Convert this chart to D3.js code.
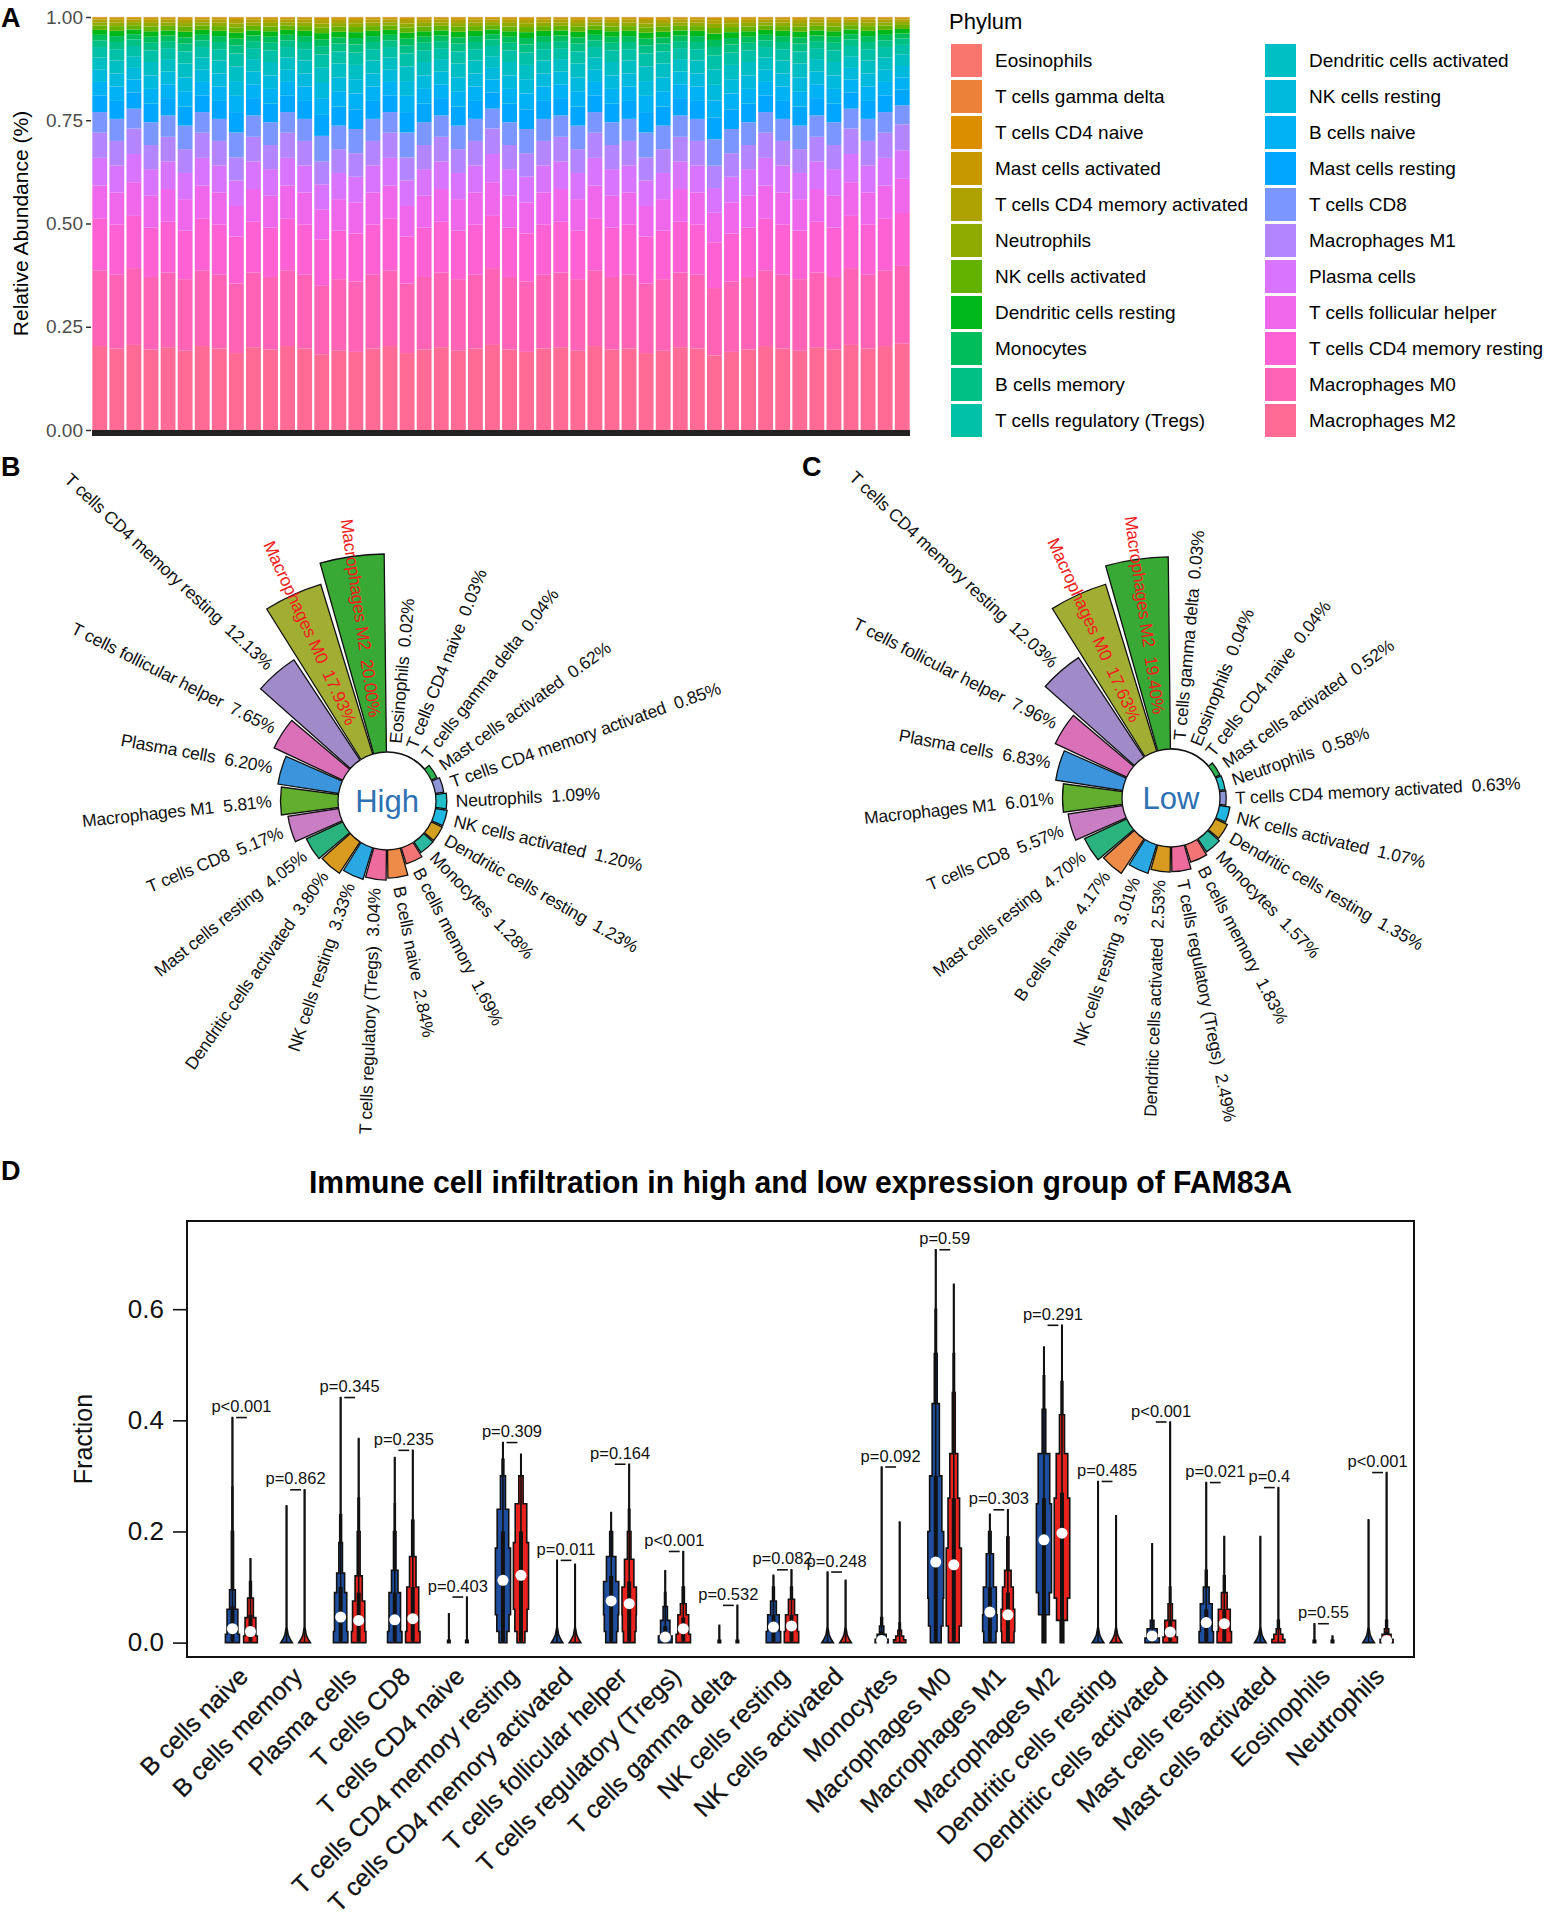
<!DOCTYPE html>
<html><head><meta charset="utf-8">
<script src="https://cdn.jsdelivr.net/npm/d3@7"></script>
<style>
body{margin:0;background:#fff;}
svg{display:block;font-family:"Liberation Sans",Arial,Helvetica,sans-serif;}
text{white-space:pre;}
</style></head><body>
<script>
// ================= DATA =================
// Panel A – cell types in legend order (top of stack first)
const cellTypes = ["Eosinophils","T cells gamma delta","T cells CD4 naive","Mast cells activated",
  "T cells CD4 memory activated","Neutrophils","NK cells activated","Dendritic cells resting",
  "Monocytes","B cells memory","T cells regulatory (Tregs)","Dendritic cells activated",
  "NK cells resting","B cells naive","Mast cells resting","T cells CD8","Macrophages M1",
  "Plasma cells","T cells follicular helper","T cells CD4 memory resting","Macrophages M0","Macrophages M2"];
// mean relative abundance (%) per cell type, legend order
const meanAbundance = [0.03,0.035,0.035,0.57,0.74,0.84,1.14,1.29,1.43,1.76,2.77,3.17,3.17,3.50,4.38,5.37,5.91,6.52,7.80,12.08,17.78,19.70];
// share of the macrophage/CD4/plasma block (bottom six types) read for each visible bar
const sampleMainShare = [0.72,0.70,0.73,0.69,0.71,0.68,0.72,0.70,0.66,0.71,0.69,0.72,0.70,0.65,0.68,0.67,0.70,0.72,0.66,0.69,
  0.71,0.68,0.70,0.73,0.69,0.67,0.70,0.71,0.68,0.72,0.69,0.70,0.66,0.68,0.71,0.70,0.64,0.67,0.69,0.72,
  0.70,0.68,0.71,0.69,0.73,0.70,0.72,0.74];
const yTicksA = [0,0.25,0.5,0.75,1];
const yTickLabelsA = ["0.00","0.25","0.50","0.75","1.00"];

// Panels B / C – circular bar plots (percent)
const highCells = ["Macrophages M2","Macrophages M0","T cells CD4 memory resting","T cells follicular helper",
  "Plasma cells","Macrophages M1","T cells CD8","Mast cells resting","Dendritic cells activated",
  "NK cells resting","T cells regulatory (Tregs)","B cells naive","B cells memory","Monocytes",
  "Dendritic cells resting","NK cells activated","Neutrophils","T cells CD4 memory activated",
  "Mast cells activated","T cells gamma delta","T cells CD4 naive","Eosinophils"];
const highValues = [20.00,17.93,12.13,7.65,6.20,5.81,5.17,4.05,3.80,3.33,3.04,2.84,1.69,1.28,1.23,1.20,1.09,0.85,0.62,0.04,0.03,0.02];
const lowCells = ["Macrophages M2","Macrophages M0","T cells CD4 memory resting","T cells follicular helper",
  "Plasma cells","Macrophages M1","T cells CD8","Mast cells resting","B cells naive","NK cells resting",
  "Dendritic cells activated","T cells regulatory (Tregs)","B cells memory","Monocytes",
  "Dendritic cells resting","NK cells activated","T cells CD4 memory activated","Neutrophils",
  "Mast cells activated","T cells CD4 naive","Eosinophils","T cells gamma delta"];
const lowValues = [19.40,17.63,12.03,7.96,6.83,6.01,5.57,4.70,4.17,3.01,2.53,2.49,1.83,1.57,1.35,1.07,0.63,0.58,0.52,0.04,0.04,0.03];
const highlightCells = ["Macrophages M2","Macrophages M0"];
// bar colours of the circular plots, legend order
const circColors = ["#E9736E","#E58B3B","#C9A227","#2CB050","#8C95D8","#22BFC9","#1FB6E2","#D4A020",
  "#2AB8A0","#F47476","#EE6C9C","#D89A1F","#2AA8E4","#EE8B48","#2BB37E","#C97DC2","#62AE2F",
  "#3C95DC","#D970B8","#A08BC8","#A2AD33","#39A935"];

// Panel D – violin plots (blue = low, red = high)
const violinCells = ["B cells naive","B cells memory","Plasma cells","T cells CD8","T cells CD4 naive",
  "T cells CD4 memory resting","T cells CD4 memory activated","T cells follicular helper",
  "T cells regulatory (Tregs)","T cells gamma delta","NK cells resting","NK cells activated","Monocytes",
  "Macrophages M0","Macrophages M1","Macrophages M2","Dendritic cells resting","Dendritic cells activated",
  "Mast cells resting","Mast cells activated","Eosinophils","Neutrophils"];
const pLabels = ["p<0.001","p=0.862","p=0.345","p=0.235","p=0.403","p=0.309","p=0.011","p=0.164","p<0.001",
  "p=0.532","p=0.082","p=0.248","p=0.092","p=0.59","p=0.303","p=0.291","p=0.485","p<0.001","p=0.021",
  "p=0.4","p=0.55","p<0.001"];
const lowMax  = [0.405,0.246,0.441,0.333,0.052,0.360,0.148,0.234,0.129,0.031,0.121,0.127,0.316,0.707,0.231,0.532,0.290,0.178,0.288,0.191,0.034,0.221];
const highMax = [0.151,0.275,0.367,0.346,0.082,0.339,0.141,0.321,0.164,0.067,0.131,0.112,0.217,0.645,0.239,0.571,0.228,0.397,0.191,0.279,0.012,0.306];
const lowMedian  = [0.025,0,0.046,0.041,0,0.112,0,0.075,0.010,0,0.028,0,0.004,0.145,0.055,0.185,0,0.012,0.036,0,0,0];
const highMedian = [0.020,0,0.040,0.043,0,0.121,0,0.070,0.025,0,0.030,0,0,0.140,0.050,0.197,0,0.019,0.034,0,0,0.004];
const lowQ3  = [0.065,0.01,0.10,0.09,0,0.20,0.01,0.12,0.03,0,0.05,0.01,0.02,0.30,0.10,0.26,0.01,0.02,0.06,0.01,0,0.01];
const highQ3 = [0.05,0.01,0.09,0.10,0,0.20,0.01,0.11,0.045,0,0.05,0.01,0.01,0.26,0.09,0.27,0.01,0.04,0.06,0.01,0,0.02];
// violin outlines: [upper y of step, half width in slot units], from the bottom
const tentShape = [[0,0.32],[0.006,0.2],[0.014,0.09],[0.026,0.025]];   // linear "tent" knots [y, half width]
const dotShape = [[0.004,0.07]];
const lowShapes = [
  [[0.015,0.39],[0.06,0.30],[0.095,0.16],[0.20,0.06],[0.28,0.03]],
  tentShape,
  [[0.02,0.40],[0.09,0.34],[0.125,0.22],[0.18,0.10],[0.23,0.05]],
  [[0.02,0.40],[0.09,0.32],[0.13,0.18],[0.20,0.07],[0.25,0.03]],
  dotShape,
  [[0.02,0.22],[0.05,0.34],[0.17,0.42],[0.24,0.32],[0.30,0.14],[0.33,0.05]],
  tentShape,
  [[0.02,0.30],[0.05,0.38],[0.11,0.42],[0.155,0.26],[0.20,0.08]],
  [[0.012,0.38],[0.04,0.26],[0.065,0.12],[0.09,0.04]],
  dotShape,
  [[0.02,0.40],[0.05,0.32],[0.075,0.16],[0.10,0.05]],
  tentShape,
  [[0.006,0.36],[0.015,0.25],[0.03,0.12],[0.045,0.05]],
  [[0.03,0.30],[0.08,0.40],[0.20,0.44],[0.30,0.34],[0.43,0.20],[0.52,0.08],[0.60,0.04]],
  [[0.02,0.34],[0.05,0.40],[0.10,0.36],[0.16,0.20],[0.20,0.07]],
  [[0.05,0.10],[0.09,0.30],[0.25,0.42],[0.34,0.32],[0.42,0.10],[0.48,0.04]],
  tentShape,
  [[0.008,0.40],[0.025,0.28],[0.04,0.10]],
  [[0.02,0.40],[0.07,0.33],[0.10,0.16],[0.13,0.05]],
  tentShape,
  dotShape,
  tentShape];
const highShapes = [
  [[0.012,0.38],[0.045,0.30],[0.08,0.16],[0.11,0.05]],
  tentShape,
  [[0.02,0.40],[0.075,0.34],[0.12,0.20],[0.20,0.08],[0.26,0.04]],
  [[0.02,0.40],[0.10,0.33],[0.155,0.18],[0.22,0.06]],
  dotShape,
  [[0.02,0.22],[0.06,0.34],[0.18,0.42],[0.25,0.32],[0.30,0.12]],
  tentShape,
  [[0.02,0.32],[0.05,0.38],[0.10,0.40],[0.15,0.26],[0.20,0.10],[0.24,0.04]],
  [[0.015,0.40],[0.05,0.30],[0.07,0.16],[0.10,0.06]],
  dotShape,
  [[0.02,0.40],[0.05,0.33],[0.078,0.17],[0.10,0.05]],
  tentShape,
  [[0.005,0.34],[0.012,0.22],[0.022,0.10],[0.035,0.04]],
  [[0.03,0.30],[0.07,0.42],[0.17,0.42],[0.26,0.32],[0.34,0.22],[0.45,0.08],[0.52,0.04]],
  [[0.02,0.34],[0.06,0.38],[0.10,0.30],[0.13,0.18],[0.19,0.06]],
  [[0.04,0.10],[0.08,0.30],[0.26,0.43],[0.34,0.32],[0.41,0.14],[0.47,0.05]],
  tentShape,
  [[0.01,0.40],[0.04,0.30],[0.07,0.12],[0.10,0.04]],
  [[0.02,0.40],[0.06,0.33],[0.09,0.16],[0.12,0.05]],
  [[0.006,0.36],[0.015,0.25],[0.025,0.12],[0.04,0.05]],
  dotShape,
  [[0.006,0.36],[0.015,0.25],[0.025,0.12],[0.04,0.05]]];
const yTicksD = [0,0.2,0.4,0.6];

// ================= DRAWING =================
const W = 1551, H = 1923;
const svg = d3.select("body").append("svg").attr("width", W).attr("height", H).attr("viewBox", `0 0 ${W} ${H}`);
svg.append("rect").attr("width", W).attr("height", H).attr("fill", "#fff");

const panelLetter = (t, x, y) => svg.append("text").attr("x", x).attr("y", y).text(t)
  .attr("font-size", 27).attr("font-weight", "bold").attr("fill", "#000");
panelLetter("A", 1, 27); panelLetter("B", 1, 476); panelLetter("C", 802, 476); panelLetter("D", 1, 1180);

// ggplot-style hue palette (polar CIE-LUV, c = 100, l = 65)
function hclLuv(h, c, l) {
  const hr = h * Math.PI / 180, u = c * Math.cos(hr), v = c * Math.sin(hr);
  const Xn = 95.047, Yn = 100, Zn = 108.883, den = Xn + 15 * Yn + 3 * Zn;
  const un = 4 * Xn / den, vn = 9 * Yn / den;
  const Y = Yn * Math.pow((l + 16) / 116, 3);
  const up = u / (13 * l) + un, vp = v / (13 * l) + vn;
  const X = Y * 9 * up / (4 * vp), Z = Y * (12 - 3 * up - 20 * vp) / (4 * vp);
  const x = X / 100, y = Y / 100, z = Z / 100;
  const lin = [3.240479 * x - 1.537150 * y - 0.498535 * z,
              -0.969256 * x + 1.875992 * y + 0.041556 * z,
               0.055648 * x - 0.204043 * y + 1.057311 * z];
  const gam = t => t <= 0.0031308 ? 12.92 * t : 1.055 * Math.pow(t, 1 / 2.4) - 0.055;
  const [r, g, b] = lin.map(t => Math.round(255 * Math.min(1, Math.max(0, gam(t)))));
  return d3.rgb(r, g, b).formatHex();
}

// ---------- Panel A ----------
const hueColors = cellTypes.map((d, i) => hclLuv(15 + i * 360 / cellTypes.length, 100, 65));
const colorA = d3.scaleOrdinal().domain(cellTypes).range(hueColors);
const A = { l: 92, r: 910, t: 17, b: 430 };
const xA = d3.scaleBand().domain(d3.range(sampleMainShare.length)).range([A.l, A.r]).paddingInner(0.13).paddingOuter(0.02);
const yA = d3.scaleLinear().domain([0, 1]).range([A.b, A.t]);
const mainIdx = [16, 17, 18, 19, 20, 21];
const mainSum = d3.sum(mainIdx, i => meanAbundance[i]) / 100;
const samples = sampleMainShare.map((share, j) => {
  const o = { id: j };
  cellTypes.forEach((c, i) => {
    const base = meanAbundance[i] / 100;
    o[c] = mainIdx.includes(i) ? base * share / mainSum : base * (1 - share) / (1 - mainSum);
  });
  return o;
});
const stackKeys = cellTypes.slice().reverse(); // Macrophages M2 at the bottom
const stacked = d3.stack().keys(stackKeys)(samples);
const gA = svg.append("g");
gA.selectAll("g.layer").data(stacked).join("g").attr("fill", d => colorA(d.key))
  .selectAll("rect").data(d => d).join("rect")
  .attr("x", d => xA(d.data.id)).attr("width", xA.bandwidth())
  .attr("y", d => yA(d[1])).attr("height", d => Math.max(0, yA(d[0]) - yA(d[1])));
// dense sample ticks form a dark band under the bars
gA.append("rect").attr("x", A.l).attr("y", A.b).attr("width", A.r - A.l).attr("height", 6).attr("fill", "#222");
const axA = gA.append("g").attr("transform", `translate(${A.l - 1},0)`)
  .call(d3.axisLeft(yA).tickValues(yTicksA).tickFormat((d, i) => yTickLabelsA[i]).tickSize(5).tickPadding(3));
axA.select(".domain").remove();
axA.selectAll(".tick line").attr("stroke", "#333").attr("stroke-width", 1.5);
axA.selectAll(".tick text").attr("font-size", 19).attr("fill", "#4d4d4d").attr("font-family", "Liberation Sans, Arial");
gA.append("text").attr("transform", `translate(28,${(A.t + A.b) / 2}) rotate(-90)`).attr("text-anchor", "middle")
  .attr("font-size", 21).attr("fill", "#000").text("Relative Abundance (%)");
// legend
const leg = svg.append("g");
leg.append("text").attr("x", 949).attr("y", 29).attr("font-size", 22).attr("fill", "#000").text("Phylum");
const legColX = [951, 1265], legRow0 = 44, legRowH = 36;
cellTypes.forEach((c, i) => {
  const col = Math.floor(i / 11), row = i % 11;
  const x = legColX[col], y = legRow0 + row * legRowH;
  leg.append("rect").attr("x", x).attr("y", y).attr("width", 31).attr("height", 33).attr("fill", colorA(c));
  leg.append("text").attr("x", x + 44).attr("y", y + 16.5).attr("dy", "0.35em").attr("font-size", 19)
    .attr("fill", "#000").text(c);
});

// ---------- Panels B, C ----------
function circular(cx, cy, cells, values, centerLabel) {
  const g = svg.append("g").attr("transform", `translate(${cx},${cy})`);
  const n = cells.length;
  const r0 = 49;
  const rScale = d3.scaleLinear().domain([0, 20]).range([r0, r0 + 198]);
  const slot = 2 * Math.PI / n;
  const arc = d3.arc();
  const colorOf = c => circColors[cellTypes.indexOf(c)];
  cells.forEach((c, i) => {
    const a0 = -(i + 1) * slot + slot * 0.04, a1 = -i * slot - slot * 0.04;
    g.append("path").attr("d", arc({ innerRadius: r0, outerRadius: rScale(values[i]), startAngle: a0, endAngle: a1 }))
      .attr("fill", colorOf(c)).attr("stroke", "#111").attr("stroke-width", 1.3);
  });
  cells.forEach((c, i) => {
    let deg = -(i + 0.5) * 360 / n; deg = (deg + 360) % 360;
    const rad = deg * Math.PI / 180;
    const hl = highlightCells.includes(c);
    const r = hl ? 85 : rScale(values[i]) + 9;
    const x = r * Math.sin(rad), y = -r * Math.cos(rad);
    const right = deg < 180;
    const rot = right ? deg - 90 - 3 : deg + 90 - (hl ? 0 : 6);
    g.append("text").attr("transform", `translate(${x},${y}) rotate(${rot})`)
      .attr("text-anchor", right ? "start" : "end").attr("dy", "0.35em")
      .attr("font-size", 17.5).attr("letter-spacing", -0.2).attr("fill", hl ? "#F01E1E" : "#111")
      .text(`${c}  ${values[i].toFixed(2)}%`);
  });
  g.append("text").attr("text-anchor", "middle").attr("dy", "0.35em").attr("font-size", 31)
    .attr("fill", "#2F72B3").text(centerLabel);
}
circular(387, 801, highCells, highValues, "High");
circular(1171, 798, lowCells, lowValues, "Low");

// ---------- Panel D ----------
const D = { l: 187, r: 1414, t: 1221, b: 1657 };
const xD = d3.scaleLinear().domain([-2.52, 65.52]).range([D.l, D.r]);
const yD = d3.scaleLinear().domain([-0.0259, 0.7587]).range([D.b, D.t]);
const unit = xD(1) - xD(0);
const gD = svg.append("g");
gD.append("text").attr("x", (D.l + D.r) / 2).attr("y", 1193).attr("text-anchor", "middle")
  .attr("font-size", 31).attr("font-weight", "bold").attr("textLength", 983).attr("lengthAdjust", "spacingAndGlyphs")
  .text("Immune cell infiltration in high and low expression group of FAM83A");
gD.append("rect").attr("x", D.l).attr("y", D.t).attr("width", D.r - D.l).attr("height", D.b - D.t)
  .attr("fill", "none").attr("stroke", "#111").attr("stroke-width", 2);
const axD = gD.append("g").attr("transform", `translate(${D.l},0)`)
  .call(d3.axisLeft(yD).tickValues(yTicksD).tickFormat(d3.format(".1f")).tickSize(14).tickPadding(9));
axD.select(".domain").remove();
axD.selectAll(".tick line").attr("stroke", "#111").attr("stroke-width", 1.6);
axD.selectAll(".tick text").attr("font-size", 26).attr("fill", "#111").attr("font-family", "Liberation Sans, Arial");
gD.append("text").attr("transform", `translate(83,${(D.t + D.b) / 2}) rotate(-90)`).attr("text-anchor", "middle")
  .attr("dy", "0.35em").attr("font-size", 25).attr("fill", "#111").text("Fraction");

function violin(pos, shape, maxV, q3, med, fill) {
  const cx = xD(pos);
  let pts = [];
  let y0 = 0;
  if (shape === tentShape) {
    pts = shape.map(([y, hw]) => [hw, y]);
    y0 = shape[shape.length - 1][0];
  } else {
    shape.forEach(([yt, hw]) => { pts.push([hw, y0], [hw, yt]); y0 = yt; });
  }
  if (maxV > y0) pts.push([0.012, y0], [0.012, maxV]);
  const rightSide = pts.map(([hw, y]) => [cx + hw * unit, yD(y)]);
  const leftSide = pts.slice().reverse().map(([hw, y]) => [cx - hw * unit, yD(y)]);
  gD.append("path").attr("d", d3.line()(rightSide.concat(leftSide)) + "Z")
    .attr("fill", fill).attr("stroke", "#111").attr("stroke-width", 1.6).attr("stroke-linejoin", "miter");
  gD.append("line").attr("x1", cx).attr("x2", cx).attr("y1", yD(0)).attr("y2", yD(maxV))
    .attr("stroke", "#111").attr("stroke-width", 1.6);
  if (q3 > 0.015) {
    gD.append("rect").attr("x", cx - 2).attr("width", 4).attr("y", yD(q3)).attr("height", yD(0.002) - yD(q3))
      .attr("fill", "#111");
  }
  if (med > 0.003) {
    gD.append("circle").attr("cx", cx).attr("cy", yD(med)).attr("r", 5.5).attr("fill", "#fff");
  }
}
violinCells.forEach((c, i) => {
  const pl = 3 * i, ph = 3 * i + 1;
  violin(pl, lowShapes[i], lowMax[i], lowQ3[i], lowMedian[i], "#1F4E9F");
  violin(ph, highShapes[i], highMax[i], highQ3[i], highMedian[i], "#E8231F");
  const mx = Math.max(lowMax[i], highMax[i]);
  gD.append("line").attr("x1", xD(3 * i + 0.2)).attr("x2", xD(3 * i + 0.8)).attr("y1", yD(mx)).attr("y2", yD(mx))
    .attr("stroke", "#111").attr("stroke-width", 1.6);
  gD.append("text").attr("x", xD(3 * i + 0.5)).attr("y", yD(mx + 0.02)).attr("dy", "0.35em")
    .attr("text-anchor", "middle").attr("font-size", 16.5).attr("fill", "#111").text(pLabels[i]);
  const lx = xD(3 * i + 1) - 7, ly = yD(-0.04) + 7;
  gD.append("text").attr("transform", `translate(${lx},${ly}) rotate(-45)`).attr("text-anchor", "end")
    .attr("dy", "0.35em").attr("font-size", 25).attr("fill", "#111").attr("stroke", "#111").attr("stroke-width", 0.3)
    .text(c);
});
</script>
</body></html>
